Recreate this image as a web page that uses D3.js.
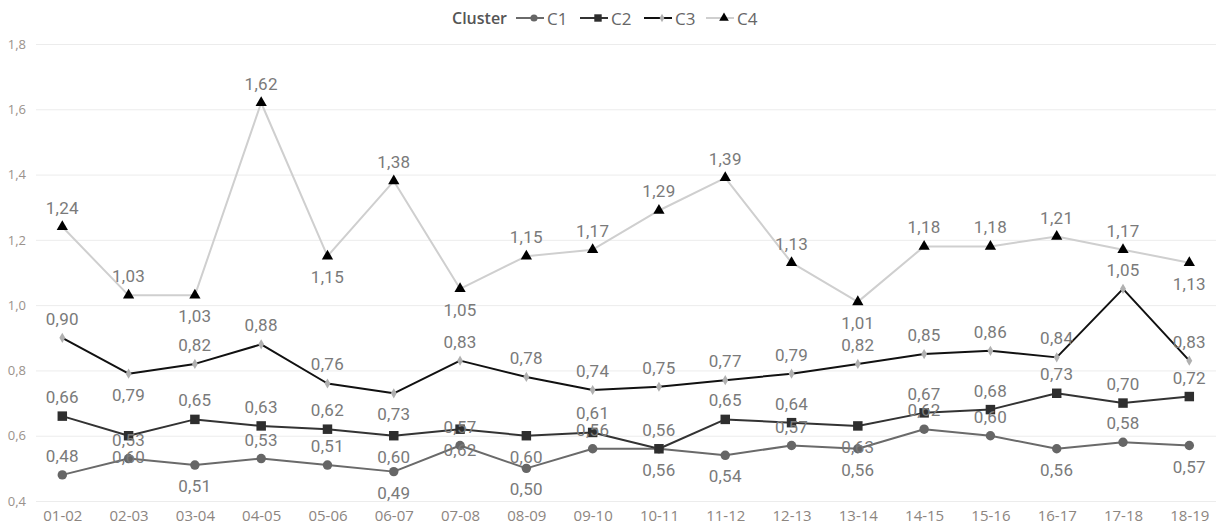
<!DOCTYPE html>
<html>
<head>
<meta charset="utf-8">
<script src="https://cdn.jsdelivr.net/npm/d3@7"></script>
<style>
  html, body { margin: 0; padding: 0; background: #fff; }
  svg { display: block; }
</style>
</head>
<body>
<svg id="chart" width="1223" height="526"></svg>
<script>
// Seasons on the x axis
const categories = ["01-02","02-03","03-04","04-05","05-06","06-07","07-08","08-09","09-10",
  "10-11","11-12","12-13","13-14","14-15","15-16","16-17","17-18","18-19"];

// Cluster values per season
const c1Values = [0.48,0.53,0.51,0.53,0.51,0.49,0.57,0.50,0.56,0.56,0.54,0.57,0.56,0.62,0.60,0.56,0.58,0.57];
const c2Values = [0.66,0.60,0.65,0.63,0.62,0.60,0.62,0.60,0.61,0.56,0.65,0.64,0.63,0.67,0.68,0.73,0.70,0.72];
const c3Values = [0.90,0.79,0.82,0.88,0.76,0.73,0.83,0.78,0.74,0.75,0.77,0.79,0.82,0.85,0.86,0.84,1.05,0.83];
const c4Values = [1.24,1.03,1.03,1.62,1.15,1.38,1.05,1.15,1.17,1.29,1.39,1.13,1.01,1.18,1.18,1.21,1.17,1.13];

// Y axis ticks
const yTicks = [0.4,0.6,0.8,1.0,1.2,1.4,1.6,1.8];

// Which side of each point its value label sits on (a = above, b = below)
const c1LabelSide = ["a","a","b","a","a","b","a","b","a","b","b","a","b","a","a","b","a","b"];
const c2LabelSide = ["a","b","a","a","a","b","b","b","a","a","a","a","b","a","a","a","a","a"];
const c3LabelSide = ["a","b","a","a","a","b","a","a","a","a","a","a","a","a","a","a","a","a"];
const c4LabelSide = ["a","a","b","a","b","a","b","a","a","a","a","a","b","a","a","a","a","b"];

const series = [
  { name: "C1", values: c1Values, sides: c1LabelSide, line: "#6a6a6a", marker: "#666666", shape: "circle" },
  { name: "C2", values: c2Values, sides: c2LabelSide, line: "#333333", marker: "#2e2e2e", shape: "square" },
  { name: "C3", values: c3Values, sides: c3LabelSide, line: "#111111", marker: "#b0b0b0", shape: "diamond" },
  { name: "C4", values: c4Values, sides: c4LabelSide, line: "#cfcfcf", marker: "#000000", shape: "triangle" }
];

const svg = d3.select("#chart");
const plotLeft = 36, plotRight = 1216;

const x = d3.scalePoint().domain(categories).range([62.3, 1189.3]);
const y = d3.scaleLinear().domain([0.4, 1.8]).range([501, 44]);

const fmt = v => d3.format(".2f")(v).replace(".", ",");
const fmtTick = v => d3.format(".1f")(v).replace(".", ",");

// Gridlines and y tick labels
const yAxis = d3.axisLeft(y).tickValues(yTicks).tickSize(-(plotRight - plotLeft)).tickFormat(fmtTick).tickPadding(10);
const gy = svg.append("g").attr("transform", `translate(${plotLeft},0)`).call(yAxis);
gy.select(".domain").remove();
gy.selectAll(".tick line").attr("stroke", "#ececec").attr("stroke-width", 1);
gy.selectAll(".tick text")
  .attr("fill", "#9a928c")
  .style("font-family", "'Open Sans', sans-serif")
  .style("font-size", "13px");

// X axis labels
const xAxis = d3.axisBottom(x).tickSize(0).tickPadding(0);
const gx = svg.append("g").attr("transform", `translate(0,515)`).call(xAxis);
gx.select(".domain").remove();
gx.selectAll(".tick text")
  .attr("fill", "#8c857f")
  .attr("y", 0)
  .attr("dy", null)
  .attr("dominant-baseline", "central")
  .style("font-family", "'Open Sans', sans-serif")
  .style("font-size", "15px");

// Marker symbols
const symbolFor = {
  circle: d3.symbol().type(d3.symbolCircle).size(70),
  square: d3.symbol().type(d3.symbolSquare).size(90),
  diamond: d3.symbol().type(d3.symbolDiamond).size(30),
  triangle: d3.symbol().type(d3.symbolTriangle).size(55)
};
const legendSymbol = {
  circle: d3.symbol().type(d3.symbolCircle).size(40),
  square: d3.symbol().type(d3.symbolSquare).size(55),
  diamond: d3.symbol().type(d3.symbolDiamond).size(20),
  triangle: d3.symbol().type(d3.symbolTriangle).size(40)
};

const line = d3.line().x((d, i) => x(categories[i])).y(d => y(d));

// Draw series lines from the lightest background line upward
const drawOrder = [series[3], series[0], series[1], series[2]];
drawOrder.forEach(s => {
  svg.append("path")
    .datum(s.values)
    .attr("fill", "none")
    .attr("stroke", s.line)
    .attr("stroke-width", 2)
    .attr("stroke-linejoin", "round")
    .attr("d", line);
});

drawOrder.forEach(s => {
  svg.append("g").selectAll("path")
    .data(s.values)
    .join("path")
    .attr("d", symbolFor[s.shape])
    .attr("fill", s.marker)
    .attr("transform", (d, i) => `translate(${x(categories[i])},${y(d)})`);
});

// Value labels
series.forEach(s => {
  svg.append("g").selectAll("text")
    .data(s.values)
    .join("text")
    .attr("x", (d, i) => x(categories[i]))
    .attr("y", (d, i) => y(d) + (s.sides[i] === "a" ? -19 : 21))
    .attr("text-anchor", "middle")
    .attr("dominant-baseline", "central")
    .attr("fill", "#7a7a7a")
    .style("font-family", "Roboto, sans-serif")
    .style("font-size", "17px")
    .style("letter-spacing", "0.3px")
    .text(d => fmt(d));
});

// Legend
const legend = svg.append("g").attr("transform", "translate(0,18)");
legend.append("text")
  .attr("x", 452).attr("y", 0)
  .attr("dominant-baseline", "central")
  .attr("fill", "#555")
  .style("font-family", "'Open Sans', sans-serif")
  .style("font-weight", "600")
  .style("font-size", "16px")
  .text("Cluster");

const legendItems = [
  { s: series[0], x0: 516 },
  { s: series[1], x0: 580 },
  { s: series[2], x0: 644 },
  { s: series[3], x0: 706 }
];
legendItems.forEach(({ s, x0 }) => {
  const g = legend.append("g").attr("transform", `translate(${x0},0)`);
  g.append("line").attr("x1", 0).attr("x2", 28).attr("y1", 0).attr("y2", 0)
    .attr("stroke", s.line).attr("stroke-width", 2);
  g.append("path").attr("d", legendSymbol[s.shape]).attr("fill", s.marker)
    .attr("transform", "translate(18,0)");
  g.append("text").attr("x", 31).attr("y", 0)
    .attr("dominant-baseline", "central")
    .attr("fill", "#666")
    .style("font-family", "'Open Sans', sans-serif")
    .style("font-size", "17px")
    .text(s.name);
});
</script>
</body>
</html>
